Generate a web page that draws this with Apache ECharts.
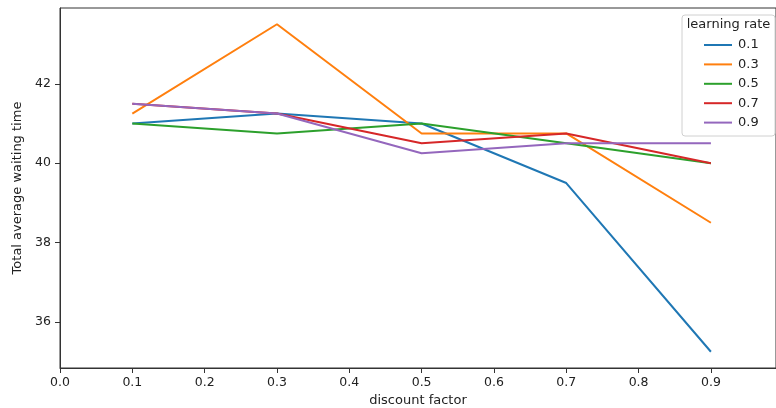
<!DOCTYPE html>
<html>
<head>
<meta charset="utf-8">
<script src="https://cdn.jsdelivr.net/npm/echarts@6/dist/echarts.min.js"></script>
<style>
  html, body { margin: 0; padding: 0; background: #fff; }
  #chart { width: 776px; height: 408px; }
</style>
</head>
<body>
<div id="chart"></div>
<script>
// discount factor on x, one line per learning rate
var discount = [0.1, 0.3, 0.5, 0.7, 0.9];
var rates = ['0.1', '0.3', '0.5', '0.7', '0.9'];
var lr01 = [41.0, 41.25, 41.0, 39.5, 35.25];
var lr03 = [41.25, 43.5, 40.75, 40.75, 38.5];
var lr05 = [41.0, 40.75, 41.0, 40.5, 40.0];
var lr07 = [41.5, 41.25, 40.5, 40.75, 40.0];
var lr09 = [41.5, 41.25, 40.25, 40.5, 40.5];
var xTicks = [0, 0.1, 0.2, 0.3, 0.4, 0.5, 0.6, 0.7, 0.8, 0.9];
var yTicks = [36, 38, 40, 42];

var colors = ['#1f77b4', '#ff7f0e', '#2ca02c', '#d62728', '#9467bd'];
var font = 'DejaVu Sans';

function pairs(ys) {
  return discount.map(function (x, i) { return [x, ys[i]]; });
}

var chart = echarts.init(document.getElementById('chart'));
chart.setOption({
  animation: false,
  color: colors,
  textStyle: { fontFamily: font },
  grid: {
    left: 60,
    right: 0,
    top: 8,
    bottom: 40,
    outerBoundsMode: 'none',
    show: true,
    borderColor: '#333',
    borderWidth: 1
  },
  xAxis: {
    type: 'value',
    min: 0,
    max: 0.99,
    name: 'discount factor',
    nameLocation: 'middle',
    nameGap: 26,
    nameTextStyle: { fontSize: 13, color: '#222', fontFamily: font },
    axisLine: { show: true, onZero: false, lineStyle: { color: '#333' } },
    axisTick: { show: true, length: 5, customValues: xTicks, lineStyle: { color: '#333' } },
    axisLabel: {
      customValues: xTicks,
      margin: 8,
      fontSize: 12.5,
      color: '#222',
      fontFamily: font,
      formatter: function (v) { return v.toFixed(1); }
    },
    splitLine: { show: false }
  },
  yAxis: {
    type: 'value',
    min: 34.84,
    max: 43.91,
    name: 'Total average waiting time',
    nameLocation: 'middle',
    nameGap: 31,
    nameTextStyle: { fontSize: 13, color: '#222', fontFamily: font },
    axisLine: { show: true, lineStyle: { color: '#333' } },
    axisTick: { show: true, length: 5, customValues: yTicks, lineStyle: { color: '#333' } },
    axisLabel: {
      customValues: yTicks,
      margin: 9,
      fontSize: 12.5,
      color: '#222',
      fontFamily: font
    },
    splitLine: { show: false }
  },
  legend: {
    orient: 'vertical',
    left: 699,
    top: 33,
    itemWidth: 28,
    itemHeight: 2,
    itemGap: 5.4,
    icon: 'rect',
    data: rates,
    textStyle: { fontSize: 13, color: '#222', fontFamily: font, lineHeight: 14, padding: [0, 0, 0, 1] }
  },
  graphic: [
    {
      type: 'rect',
      z: 1,
      shape: { x: 682, y: 15, width: 93, height: 121, r: 3 },
      style: { fill: 'rgba(255,255,255,0.8)', stroke: '#d0d0d0', lineWidth: 1 }
    },
    {
      type: 'text',
      z: 2,
      x: 728.5,
      y: 25,
      style: { text: 'learning rate', fontSize: 13, fontFamily: font, fill: '#222', align: 'center', verticalAlign: 'middle' }
    }
  ],
  series: [
    { name: rates[0], type: 'line', data: pairs(lr01), symbol: 'none', lineStyle: { width: 2 } },
    { name: rates[1], type: 'line', data: pairs(lr03), symbol: 'none', lineStyle: { width: 2 } },
    { name: rates[2], type: 'line', data: pairs(lr05), symbol: 'none', lineStyle: { width: 2 } },
    { name: rates[3], type: 'line', data: pairs(lr07), symbol: 'none', lineStyle: { width: 2 } },
    { name: rates[4], type: 'line', data: pairs(lr09), symbol: 'none', lineStyle: { width: 2 } }
  ]
});
</script>
</body>
</html>
